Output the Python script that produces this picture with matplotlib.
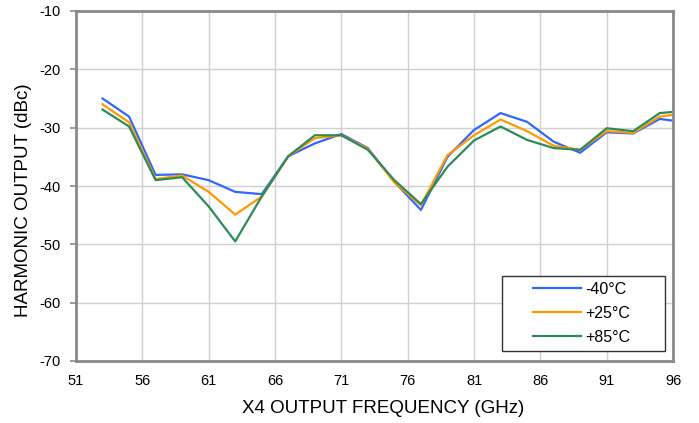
import matplotlib
matplotlib.use("Agg")
import matplotlib.pyplot as plt
from matplotlib.patches import Rectangle

plt.rcParams["font.family"] = ["Liberation Sans", "DejaVu Sans"]
plt.rcParams["axes.unicode_minus"] = False

freq = [53, 55, 57, 59, 61, 63, 65, 67, 69, 71, 73, 75, 77, 79, 81, 83, 85, 87, 89, 91, 93, 95, 96]
minus40 = [-25.0, -28.1, -38.1, -38.0, -39.0, -41.0, -41.4, -34.9, -32.7, -31.1, -33.5, -39.3,
           -44.1, -35.0, -30.4, -27.5, -29.0, -32.4, -34.3, -30.8, -31.0, -28.5, -28.8]
plus25 = [-26.0, -29.1, -38.8, -38.2, -41.0, -44.9, -41.8, -34.9, -31.8, -31.3, -33.6, -39.4,
          -43.3, -34.7, -31.3, -28.6, -30.6, -33.1, -33.8, -30.6, -30.9, -28.1, -27.8]
plus85 = [-26.9, -29.8, -39.0, -38.5, -43.5, -49.5, -41.8, -34.9, -31.3, -31.3, -33.8, -39.0,
          -43.1, -36.7, -32.2, -29.8, -32.1, -33.5, -33.8, -30.1, -30.6, -27.5, -27.3]
labels = ["-40°C", "+25°C", "+85°C"]
colors = ["#3366ff", "#ff9900", "#2e8b57"]

W, H = 699, 423
fig = plt.figure(figsize=(W / 100, H / 100), dpi=100)
ax = fig.add_axes([76 / W, 1 - 361 / H, (673 - 76) / W, (361 - 11) / H])

for ys, lab, c in zip([minus40, plus25, plus85], labels, colors):
    ax.plot(freq, ys, color=c, lw=1.6, label=lab)

ax.set_xlim(51, 96)
ax.set_ylim(-70, -10)
ax.set_xticks(range(51, 97, 5))
ax.set_yticks(range(-70, -9, 10))
ax.grid(True, color="#d0d0d0", lw=1)
ax.set_axisbelow(True)
for s in ax.spines.values():
    s.set_color("#898989")
    s.set_linewidth(2)
ax.tick_params(axis="x", length=0, labelsize=10.5, pad=9)
ax.tick_params(axis="y", length=4, width=1.2, color="#898989", labelsize=10.5, pad=7)
ax.set_xlabel("X4 OUTPUT FREQUENCY (GHz)", fontsize=13.5)
ax.xaxis.set_label_coords((383 - 76) / 597, -(400 - 361) / 350)
ax.set_ylabel("HARMONIC OUTPUT (dBc)", fontsize=13.5)
ax.yaxis.set_label_coords((32 - 76) / 597, (361 - 200.5) / 350)

# legend box drawn separately (Excel-style wide frame)
ax.add_patch(Rectangle((501.7 / W, 1 - 350.7 / H), (665 - 501.7) / W, (350.7 - 275.7) / H,
                       transform=fig.transFigure, facecolor="white",
                       edgecolor="#333333", lw=1, zorder=5, clip_on=False))
leg = ax.legend(loc="center", bbox_to_anchor=(582 / W, 1 - 313.3 / H),
                bbox_transform=fig.transFigure, fontsize=11.5, frameon=False,
                handlelength=2.95, handletextpad=0.3, labelspacing=0.56, borderpad=0)
leg.set_zorder(6)

fig.savefig("out.png", dpi=100)
